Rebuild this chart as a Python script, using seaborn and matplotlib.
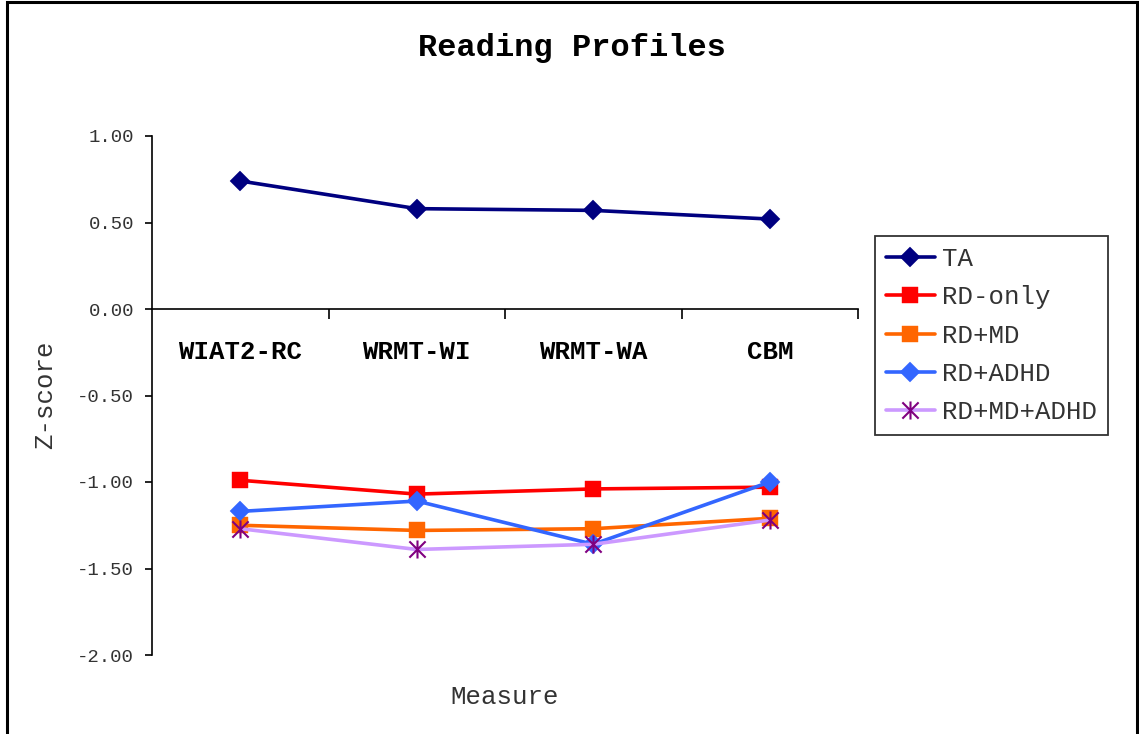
import matplotlib.pyplot as plt
import seaborn as sns
import numpy as np
import pandas as pd
from matplotlib.path import Path
from matplotlib.patches import Rectangle
from matplotlib.ticker import FixedLocator, FormatStrFormatter

sns.set_style('white')
plt.rcParams['font.family'] = ['Liberation Mono', 'DejaVu Sans Mono']

measures = ['WIAT2-RC', 'WRMT-WI', 'WRMT-WA', 'CBM']
groups = ['TA', 'RD-only', 'RD+MD', 'RD+ADHD', 'RD+MD+ADHD']

ta = [0.74, 0.58, 0.57, 0.52]
rd_only = [-0.99, -1.07, -1.04, -1.03]
rd_md = [-1.25, -1.28, -1.27, -1.21]
rd_adhd = [-1.17, -1.11, -1.36, -1.00]
rd_md_adhd = [-1.27, -1.39, -1.36, -1.22]

line_colors = ['#000080', '#FF0000', '#FF6600', '#3366FF', '#CC99FF']
marker_colors = ['#000080', '#FF0000', '#FF6600', '#3366FF', '#800080']

# excel-like asterisk: vertical bar plus an X
star = Path([(0, -1), (0, 1), (-0.9, -0.9), (0.9, 0.9), (-0.9, 0.9), (0.9, -0.9)],
            [Path.MOVETO, Path.LINETO, Path.MOVETO, Path.LINETO, Path.MOVETO, Path.LINETO])
markers = ['D', 's', 's', 'D', star]
msizes = [10, 12, 12, 10, 13]

df = pd.DataFrame({
    'group': np.repeat(groups, len(measures)),
    'measure': measures * len(groups),
    'pos': list(range(len(measures))) * len(groups),
    'z': ta + rd_only + rd_md + rd_adhd + rd_md_adhd,
})

fig = plt.figure(figsize=(11.39, 7.34), dpi=100)
fig.patch.set_facecolor('white')
ax = fig.add_axes([152 / 1139, 79 / 734, 706 / 1139, 519 / 734])

for i, g in enumerate(groups):
    sub = df[df['group'] == g]
    sns.lineplot(data=sub, x='pos', y='z', ax=ax, color=line_colors[i], linewidth=2.6,
                 marker=markers[i], markersize=msizes[i], markerfacecolor=marker_colors[i],
                 markeredgecolor=marker_colors[i], markeredgewidth=1.5 if i == 4 else 0.3,
                 label=g, legend=False)

ax.set_xlim(-0.5, len(measures) - 0.5)
ax.set_ylim(-2.0, 1.0)
ax.set_xlabel('')
ax.set_ylabel('')

for s in ['top', 'right']:
    ax.spines[s].set_visible(False)
ax.spines['bottom'].set_position(('data', 0))
for s in ['left', 'bottom']:
    ax.spines[s].set_color('black')
    ax.spines[s].set_linewidth(1.2)

ax.set_yticks(np.arange(-2.0, 1.01, 0.5))
ax.yaxis.set_major_formatter(FormatStrFormatter('%.2f'))
ax.tick_params(axis='y', direction='out', length=5, width=1.2, color='black', pad=8,
               labelsize=13.7, labelcolor='#333333', left=True)

ax.set_xticks(range(len(measures)))
ax.set_xticklabels(measures, fontweight='bold', fontsize=18.5)
ax.tick_params(axis='x', which='major', length=0, pad=22, bottom=True, labelcolor='black')
ax.xaxis.set_minor_locator(FixedLocator(np.arange(0.5, len(measures), 1.0)))
ax.tick_params(axis='x', which='minor', direction='out', length=7, width=1.2, color='black', bottom=True)

fig.text(572 / 1139, 1 - 48 / 734, 'Reading Profiles', ha='center', va='center',
         fontsize=23, fontweight='bold', color='black')
fig.text(45 / 1139, 1 - 395 / 734, 'Z-score', ha='center', va='center', rotation=90,
         fontsize=18.5, color='#333333')
fig.text(505 / 1139, 1 - 697 / 734, 'Measure', ha='center', va='center',
         fontsize=18.5, color='#333333')

handles, labels = ax.get_legend_handles_labels()
leg = fig.legend(handles, labels, loc='upper left', bbox_to_anchor=(875 / 1139, 1 - 236 / 734),
                 fontsize=18.5, frameon=True, fancybox=False, edgecolor='black',
                 labelspacing=0.56, handlelength=1.9, handletextpad=0.3, borderpad=0.42,
                 borderaxespad=0)
leg.get_frame().set_linewidth(1.3)
for t in leg.get_texts():
    t.set_color('#333333')

fig.add_artist(Rectangle((7 / 1139, -0.01), 1130 / 1139, 1.01 - 2 / 734, transform=fig.transFigure,
                         fill=False, edgecolor='black', linewidth=2.2))

fig.savefig('out.png', dpi=100, facecolor='white')
